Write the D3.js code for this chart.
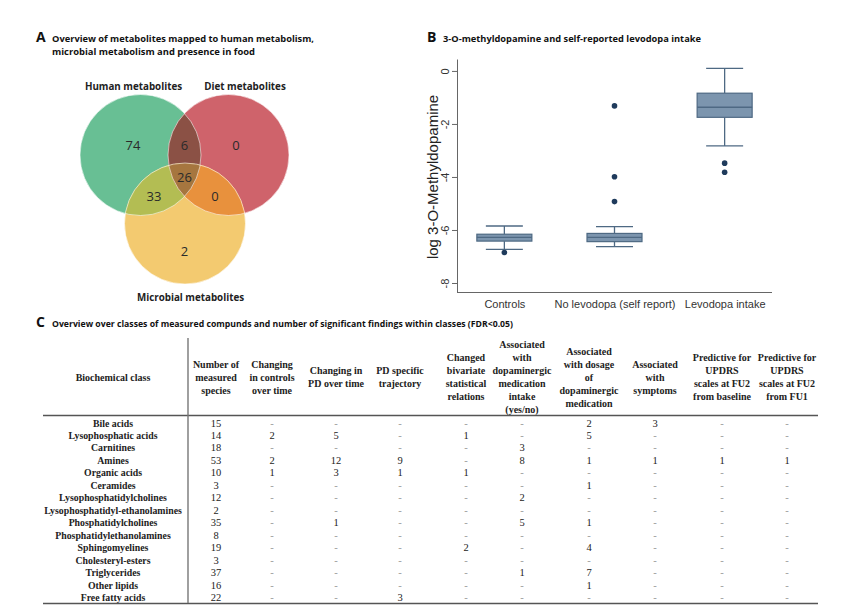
<!DOCTYPE html>
<html>
<head>
<meta charset="utf-8">
<script src="https://cdn.jsdelivr.net/npm/d3@7"></script>
<style>
  body { margin: 0; background: #fff; }
  svg { display: block; }
  .sans { font-family: "Open Sans", "Liberation Sans", sans-serif; }
  .arial { font-family: "Liberation Sans", Arial, sans-serif; }
  .serif { font-family: "Liberation Serif", "Times New Roman", serif; }
</style>
</head>
<body>
<svg width="846" height="614"></svg>
<script>
// ---- panel A: venn counts
const vennSets = ["Human metabolites", "Diet metabolites", "Microbial metabolites"];
const vennRegions = ["H", "HD", "D", "HDM", "HM", "DM", "M"];
const vennCounts = [74, 6, 0, 26, 33, 0, 2];

// ---- panel B: boxplot of log 3-O-methyldopamine
const boxGroups = ["Controls", "No levodopa (self report)", "Levodopa intake"];
const whiskerHigh = [-5.85, -5.87, 0.1];
const boxHigh = [-6.16, -6.13, -0.84];
const medians = [-6.28, -6.28, -1.37];
const boxLow = [-6.42, -6.44, -1.75];
const whiskerLow = [-6.73, -6.63, -2.83];
const outliers = [[-6.85], [-1.32, -3.99, -4.93], [-3.48, -3.82]];
const yTicks = [0, -2, -4, -6, -8];

// ---- panel C: table
const headers = [
  ["Biochemical class"],
  ["Number of", "measured", "species"],
  ["Changing", "in controls", "over time"],
  ["Changing in", "PD over time"],
  ["PD specific", "trajectory"],
  ["Changed", "bivariate", "statistical", "relations"],
  ["Associated", "with", "dopaminergic", "medication", "intake", "(yes/no)"],
  ["Associated", "with dosage", "of", "dopaminergic", "medication"],
  ["Associated", "with", "symptoms"],
  ["Predictive for", "UPDRS", "scales at FU2", "from baseline"],
  ["Predictive for", "UPDRS", "scales at FU2", "from FU1"]
];
const classes = ["Bile acids", "Lysophosphatic acids", "Carnitines", "Amines", "Organic acids",
  "Ceramides", "Lysophosphatidylcholines", "Lysophosphatidyl-ethanolamines", "Phosphatidylcholines",
  "Phosphatidylethanolamines", "Sphingomyelines", "Cholesteryl-esters", "Triglycerides",
  "Other lipids", "Free fatty acids"];
const species        = [15, 14, 18, 53, 10, 3, 12, 2, 35, 8, 19, 3, 37, 16, 22];
const changeControls = ["-", 2, "-", 2, 1, "-", "-", "-", "-", "-", "-", "-", "-", "-", "-"];
const changePD       = ["-", 5, "-", 12, 3, "-", "-", "-", 1, "-", "-", "-", "-", "-", "-"];
const pdTrajectory   = ["-", "-", "-", 9, 1, "-", "-", "-", "-", "-", "-", "-", "-", "-", 3];
const bivariate      = ["-", 1, "-", "-", 1, "-", "-", "-", "-", "-", 2, "-", "-", "-", "-"];
const medIntake      = ["-", "-", 3, 8, "-", "-", 2, "-", 5, "-", "-", "-", 1, "-", "-"];
const medDosage      = [2, 5, "-", 1, "-", 1, "-", "-", 1, "-", 4, "-", 7, 1, "-"];
const symptoms       = [3, "-", "-", 1, "-", "-", "-", "-", "-", "-", "-", "-", "-", "-", "-"];
const predBaseline   = ["-", "-", "-", 1, "-", "-", "-", "-", "-", "-", "-", "-", "-", "-", "-"];
const predFU1        = ["-", "-", "-", 1, "-", "-", "-", "-", "-", "-", "-", "-", "-", "-", "-"];

const svg = d3.select("svg");
svg.append("rect").attr("width", 846).attr("height", 614).attr("fill", "#fff");

function title(x, y, letter, lines, lens) {
  const g = svg.append("g").attr("class", "sans");
  g.append("text").attr("x", x).attr("y", y).attr("font-size", 14).attr("font-weight", 700)
    .attr("fill", "#111").text(letter);
  lines.forEach((l, i) => {
    g.append("text").attr("x", x + 16).attr("y", y + i * 13)
      .attr("font-size", 9.5).attr("font-weight", 700).attr("fill", "#111")
      .attr("textLength", lens[i]).attr("lengthAdjust", "spacingAndGlyphs").text(l);
  });
}

// ================= A =================
title(36, 42, "A", ["Overview of metabolites mapped to human metabolism,",
  "microbial metabolism and presence in food"], [262, 203]);

const circ = {
  H: { x: 140.5, y: 155, r: 60.5, fill: "#68bf94" },
  D: { x: 228.5, y: 155, r: 60.5, fill: "#cf636b" },
  M: { x: 185, y: 223.5, r: 60.5, fill: "#f3ca70" }
};
const defs = svg.append("defs");
["H", "D", "M"].forEach(k => {
  defs.append("clipPath").attr("id", "clip" + k).append("circle")
    .attr("cx", circ[k].x).attr("cy", circ[k].y).attr("r", circ[k].r);
});
const venn = svg.append("g");
["H", "D", "M"].forEach(k => {
  venn.append("circle").attr("cx", circ[k].x).attr("cy", circ[k].y).attr("r", circ[k].r).attr("fill", circ[k].fill);
});
function lens(clips, k, color) {
  let g = venn;
  clips.forEach(c => { g = g.append("g").attr("clip-path", `url(#clip${c})`); });
  g.append("circle").attr("cx", circ[k].x).attr("cy", circ[k].y).attr("r", circ[k].r).attr("fill", color);
}
lens(["H"], "D", "#8b5145");
lens(["H"], "M", "#b3bd53");
lens(["D"], "M", "#e8913d");
lens(["H", "D"], "M", "#a6763f");
["H", "D", "M"].forEach(k => {
  venn.append("circle").attr("cx", circ[k].x).attr("cy", circ[k].y).attr("r", circ[k].r)
    .attr("fill", "none").attr("stroke", "#fff").attr("stroke-opacity", 0.7).attr("stroke-width", 0.8);
});
const regionPos = {
  H: [133, 145], HD: [184.5, 145], D: [236, 145], HDM: [184.5, 177],
  HM: [154, 196], DM: [215, 196], M: [184.5, 251]
};
venn.selectAll("text.count").data(vennRegions).join("text").attr("class", "count sans")
  .attr("x", d => regionPos[d][0]).attr("y", d => regionPos[d][1])
  .attr("text-anchor", "middle").attr("dominant-baseline", "central")
  .attr("font-size", 13).attr("fill", "#2a2a2a")
  .text((d, i) => vennCounts[i]);
const setLabelPos = [[133.5, 86], [245, 86], [190.5, 297]];
venn.selectAll("text.setlab").data(vennSets).join("text").attr("class", "setlab sans")
  .attr("x", (d, i) => setLabelPos[i][0]).attr("y", (d, i) => setLabelPos[i][1])
  .attr("text-anchor", "middle").attr("dominant-baseline", "central")
  .attr("font-size", 9.8).attr("font-weight", 700).attr("fill", "#222").text(d => d);

// ================= B =================
title(427, 42, "B", ["3-O-methyldopamine and self-reported levodopa intake"], [258]);

const y = d3.scaleLinear().domain([-8.34, 0.45]).range([292, 59]);
const x = d3.scalePoint().domain(boxGroups).range([457, 772]).padding(0.43);
const bw = 55, cap = 37;
const axisColor = "#666";

const yAx = svg.append("g").attr("transform", "translate(457,0)")
  .call(d3.axisLeft(y).tickValues(yTicks).tickSize(5).tickSizeOuter(0).tickFormat(d => String(d)));
yAx.select(".domain").attr("stroke", axisColor);
yAx.selectAll(".tick line").attr("stroke", axisColor);
yAx.selectAll(".tick text").attr("class", "arial").attr("font-size", 11).attr("fill", "#333")
  .attr("x", null).attr("dy", null).attr("text-anchor", "middle").attr("dominant-baseline", "central")
  .attr("transform", "translate(-12,0) rotate(-90)");
svg.append("text").attr("class", "arial").attr("transform", `translate(432,${y(-4)}) rotate(-90)`)
  .attr("text-anchor", "middle").attr("dominant-baseline", "central")
  .attr("font-size", 15).attr("fill", "#222")
  .text("log 3-O-Methyldopamine");

const xAx = svg.append("g").attr("transform", "translate(0,292)")
  .call(d3.axisBottom(x).tickSize(0).tickPadding(8));
xAx.select(".domain").attr("stroke", axisColor).attr("d", "M457,0.5H772");
xAx.selectAll(".tick text").attr("class", "arial").attr("font-size", 11).attr("fill", "#333");

const boxCol = "#7c95ae", lineCol = "#4e6983";
const boxes = svg.append("g").selectAll("g").data(boxGroups).join("g")
  .attr("transform", d => `translate(${x(d)},0)`);
boxes.append("line").attr("y1", (d, i) => y(whiskerHigh[i])).attr("y2", (d, i) => y(boxHigh[i]))
  .attr("stroke", lineCol).attr("stroke-width", 1.3);
boxes.append("line").attr("y1", (d, i) => y(boxLow[i])).attr("y2", (d, i) => y(whiskerLow[i]))
  .attr("stroke", lineCol).attr("stroke-width", 1.3);
boxes.append("line").attr("x1", -cap / 2).attr("x2", cap / 2)
  .attr("y1", (d, i) => y(whiskerHigh[i])).attr("y2", (d, i) => y(whiskerHigh[i]))
  .attr("stroke", lineCol).attr("stroke-width", 1.3);
boxes.append("line").attr("x1", -cap / 2).attr("x2", cap / 2)
  .attr("y1", (d, i) => y(whiskerLow[i])).attr("y2", (d, i) => y(whiskerLow[i]))
  .attr("stroke", lineCol).attr("stroke-width", 1.3);
boxes.append("rect").attr("x", -bw / 2).attr("width", bw)
  .attr("y", (d, i) => y(boxHigh[i])).attr("height", (d, i) => y(boxLow[i]) - y(boxHigh[i]))
  .attr("fill", boxCol).attr("stroke", lineCol).attr("stroke-width", 1.2);
boxes.append("line").attr("x1", -bw / 2).attr("x2", bw / 2)
  .attr("y1", (d, i) => y(medians[i])).attr("y2", (d, i) => y(medians[i]))
  .attr("stroke", lineCol).attr("stroke-width", 1.3);
boxes.each(function (d, i) {
  d3.select(this).selectAll("circle").data(outliers[i]).join("circle")
    .attr("cx", 0).attr("cy", v => y(v)).attr("r", 2.8).attr("fill", "#1f3b5c");
});

// ================= C =================
title(36, 327, "C", ["Overview over classes of measured compunds and number of significant findings within classes (FDR<0.05)"], [461]);

const columns = [classes, species, changeControls, changePD, pdTrajectory, bivariate,
  medIntake, medDosage, symptoms, predBaseline, predFU1];
const colX = [113, 216, 272, 336, 400, 466, 522, 589, 655, 722, 787];
const row = d3.scaleLinear().domain([0, classes.length - 1]).range([423, 597.5]);

const tbl = svg.append("g").attr("class", "serif");
headers.forEach((lines, c) => {
  const lh = 13, top = 377 - (lines.length - 1) * lh / 2;
  tbl.append("g").selectAll("text").data(lines).join("text")
    .attr("x", colX[c]).attr("y", (d, i) => top + i * lh)
    .attr("text-anchor", "middle").attr("dominant-baseline", "central")
    .attr("font-size", 10).attr("font-weight", 700).attr("fill", "#222").text(d => d);
});
columns.forEach((vals, c) => {
  tbl.append("g").selectAll("text").data(vals).join("text")
    .attr("x", colX[c]).attr("y", (d, i) => row(i))
    .attr("text-anchor", "middle").attr("dominant-baseline", "central")
    .attr("font-size", c === 0 ? 9.8 : 10.5)
    .attr("font-weight", c === 0 ? 700 : 400)
    .attr("fill", d => d === "-" ? "#999" : "#222")
    .text(d => d);
});
tbl.append("line").attr("x1", 43).attr("x2", 818).attr("y1", 415.5).attr("y2", 415.5)
  .attr("stroke", "#555").attr("stroke-width", 1.6);
tbl.append("line").attr("x1", 43).attr("x2", 818).attr("y1", 603.5).attr("y2", 603.5)
  .attr("stroke", "#555").attr("stroke-width", 1.6);
tbl.append("line").attr("x1", 188).attr("x2", 188).attr("y1", 338).attr("y2", 603)
  .attr("stroke", "#777").attr("stroke-width", 1.4);
</script>
</body>
</html>
